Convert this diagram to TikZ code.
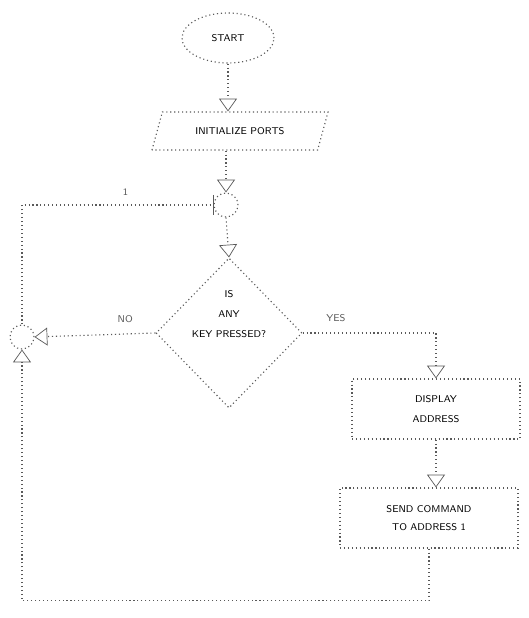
\documentclass[tikz,border=0pt]{standalone}
\usepackage{tikz}
\usetikzlibrary{
  arrows.meta,
  positioning,
  calc,
  shapes.geometric
}

\begin{document}
\begin{tikzpicture}[
      x=0.025cm, y=-0.025cm,
      linha/.style={draw=black!65, dotted, thick},
      inicio/.style={linha, ellipse, minimum width=2.3cm, minimum height=1.25cm, align=center, font=\scriptsize\sffamily},
      entrada/.style={linha, trapezium, trapezium left angle=58, trapezium right angle=122, trapezium stretches body, minimum width=4.4cm, minimum height=0.95cm, inner xsep=0pt, align=center, font=\scriptsize\sffamily},
      decisao/.style={linha, diamond, minimum width=3.65cm, minimum height=3.75cm, inner sep=0pt},
      texto/.style={align=center, font=\scriptsize\sffamily},
      caixa/.style={linha, rectangle, minimum height=1.5cm, align=center, font=\scriptsize\sffamily},
      conector/.style={linha, circle, minimum size=0.6cm, inner sep=0pt},
      rotulo/.style={font=\scriptsize\sffamily, text=black!65},
      seta/.style={linha, -{Triangle[open, length=0.32cm, width=0.45cm, line width=0.5pt, black!65]}}
  ]
      \useasboundingbox (0,0) rectangle (528,618);

      % Nos do fluxo
      \node[inicio] (start) at (228,38) {START};
      \node[entrada] (init) at (240,131) {INITIALIZE PORTS};
      \node[conector] (jn1) at (226,205) {};
      \node[decisao] (key) at (229,333) {};
      \node[texto] (keytxt) at (229,314) {IS\\[6pt]ANY\\[6pt]KEY PRESSED?};
      \node[conector] (jn2) at (22,337) {};
      \node[caixa, minimum width=4.2cm] (disp) at (436,409) {DISPLAY\\[6pt]ADDRESS};
      \node[caixa, minimum width=4.45cm] (send) at (429,518) {SEND COMMAND\\[5pt]TO ADDRESS 1};

      % Setas de conexao
      \draw[seta] (start.south) -- (start.south |- init.north);
      \draw[seta] (init.south -| jn1.north) -- (jn1.north);
      \draw[seta] (jn1.south) -- (key.north);
      \draw[seta] (key.west) -- node[rotulo, above=4pt, pos=0.25] {NO} (jn2.east);
      \draw[seta] (key.east) -- node[rotulo, above=4pt, pos=0.25] {YES} ($(key.east)!(disp.north)!(key.east -| disp.north)$) -- (disp.north);
      \draw[seta] (disp.south) -- (disp.south |- send.north);
      \draw[seta] (send.south) -- ++(0,52) -| (jn2.south);
      \draw[linha, -{Bar[width=0.5cm, line width=0.6pt, black!65]}] (jn2.north) |- node[rotulo, above=3pt, pos=0.77] {1} (jn1.west);

  \end{tikzpicture}
\end{document}
